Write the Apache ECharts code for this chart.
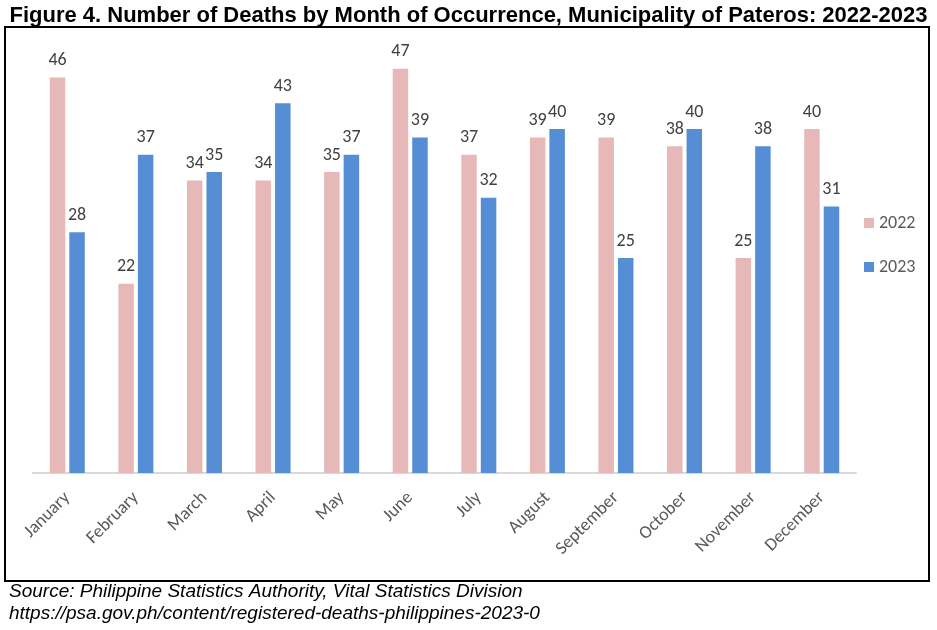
<!DOCTYPE html>
<html>
<head>
<meta charset="utf-8">
<script src="https://cdn.jsdelivr.net/npm/echarts@6/dist/echarts.min.js"></script>
<style>html,body{margin:0;padding:0;background:#fff}#c{width:937px;height:630px}</style>
</head>
<body>
<div id="c"></div>
<script>
var months = ['January','February','March','April','May','June','July','August','September','October','November','December'];
var deaths2022 = [46,22,34,34,35,47,37,39,39,38,25,40];
var deaths2023 = [28,37,35,43,37,39,32,40,25,40,38,31];
var seriesNames = ['2022','2023'];

var chart = echarts.init(document.getElementById('c'));
var FONT = 'Carlito, Calibri, "Liberation Sans", sans-serif';
var labelStyle = {show:true, position:'top', distance:8, color:'#404040', fontSize:18, fontFamily:FONT};
chart.setOption({
  animation:false,
  title:{
    text:'Figure 4. Number of Deaths by Month of Occurrence, Municipality of Pateros: 2022-2023',
    left:'center', top:0,
    textStyle:{fontFamily:'"Liberation Sans", Arial, sans-serif', fontWeight:'bold', fontSize:22, color:'#000'}
  },
  graphic:[
    {type:'rect', shape:{x:5, y:27, width:924, height:554}, style:{fill:'none', stroke:'#000', lineWidth:2}, z:-1},
    {type:'text', left:9, top:582, style:{text:'Source: Philippine Statistics Authority, Vital Statistics Division', font:'italic 19px "Liberation Sans", Arial, sans-serif', fill:'#000'}},
    {type:'text', left:9, top:604, style:{text:'https://psa.gov.ph/content/registered-deaths-philippines-2023-0', font:'italic 19px "Liberation Sans", Arial, sans-serif', fill:'#000'}}
  ],
  legend:{
    orient:'vertical', left:859, top:208, itemWidth:10, itemHeight:10, itemGap:24, icon:'rect',
    textStyle:{color:'#595959', fontSize:18, lineHeight:20, fontFamily:FONT},
    data:seriesNames
  },
  grid:{left:33, right:81, top:43, bottom:157, containLabel:false},
  xAxis:{
    type:'category', data:months,
    axisLine:{lineStyle:{color:'#d9d9d9', width:2}},
    axisTick:{show:false},
    axisLabel:{rotate:45, interval:0, margin:22, color:'#595959', fontSize:18, fontFamily:FONT}
  },
  yAxis:{type:'value', min:0, max:50, show:false, splitLine:{show:false}},
  series:[
    {name:seriesNames[0], type:'bar', data:deaths2022, barWidth:15.5, barGap:'26%', itemStyle:{color:'#e6b9b8'}, label:labelStyle},
    {name:seriesNames[1], type:'bar', data:deaths2023, barWidth:15.5, itemStyle:{color:'#558ed5'}, label:labelStyle}
  ]
});
</script>
</body>
</html>
